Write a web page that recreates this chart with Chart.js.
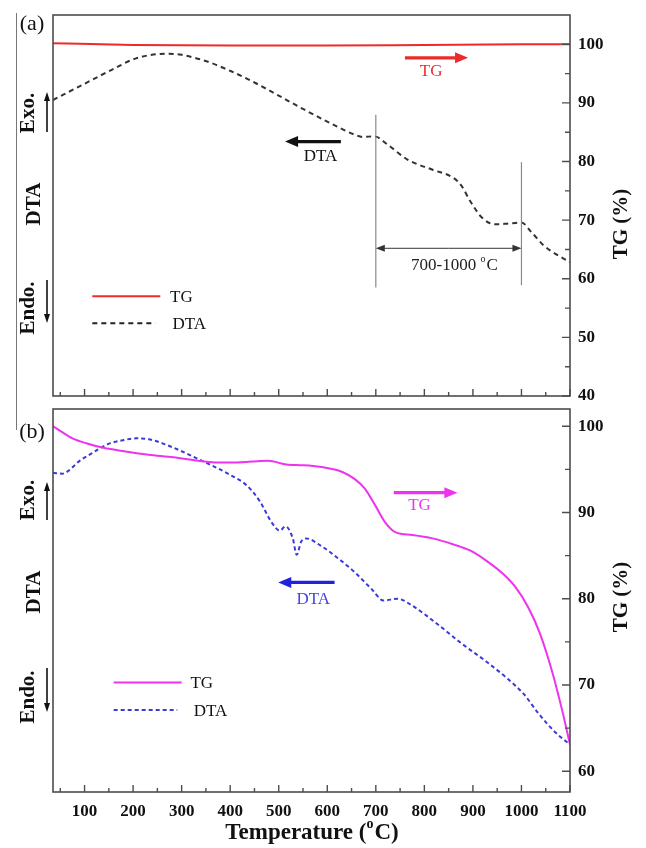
<!DOCTYPE html>
<html>
<head>
<meta charset="utf-8">
<script src="https://cdn.jsdelivr.net/npm/chart.js@4.4.1/dist/chart.umd.min.js"></script>
<style>
  html, body { margin: 0; padding: 0; background: #fff; }
  #wrap { position: relative; width: 646px; height: 848px; }
  .panel { position: absolute; left: 0; width: 646px; }
  #panelA { top: 0; height: 400px; }
  #panelB { top: 400px; height: 448px; }
  #edge { position: absolute; left: 16px; top: 13px; width: 1px; height: 417px; background: #777; }
</style>
</head>
<body>
<div id="wrap">
  <div class="panel" id="panelA"><canvas id="chartA"></canvas></div>
  <div class="panel" id="panelB"><canvas id="chartB"></canvas></div>
  <div id="edge"></div>
</div>
<script>
// tick labels
const tempTicks = [100, 200, 300, 400, 500, 600, 700, 800, 900, 1000, 1100];
const tgTicksA = [40, 50, 60, 70, 80, 90, 100];
const tgTicksB = [60, 70, 80, 90, 100];

// (a) TG + DTA
const tempA_TG = [35, 200, 400, 600, 800, 1000, 1100];
const tgA = [100.2, 99.9, 99.8, 99.8, 99.9, 100, 100];
const tempA_DTA = [35, 96, 155, 206, 270, 300, 351, 402, 452, 503, 554, 605, 656, 673, 697, 724, 766, 817, 860, 877, 894, 919, 945, 970, 1000, 1021, 1047, 1100];
const dtaA = [90.5, 93.1, 95.6, 97.6, 98.4, 98.2, 97.1, 95.4, 93.4, 91.1, 88.8, 86.6, 84.6, 84.2, 84.3, 82.9, 80.3, 78.6, 77.2, 75.8, 73.3, 70.4, 69.3, 69.4, 69.6, 67.9, 65.6, 62.8];

// (b) TG + DTA
const tempB_TG = [35, 49, 75, 105, 139, 181, 232, 283, 334, 368, 402, 444, 478, 491, 512, 537, 571, 605, 631, 656, 677, 699, 720, 741, 775, 817, 860, 894, 928, 962, 987, 1013, 1038, 1064, 1085, 1100];
const tgB = [100, 99.5, 98.6, 98.0, 97.5, 97.1, 96.7, 96.4, 96.0, 95.8, 95.8, 95.9, 96.0, 95.9, 95.6, 95.5, 95.4, 95.1, 94.7, 93.9, 92.8, 90.8, 88.8, 87.7, 87.4, 87.0, 86.3, 85.6, 84.4, 82.9, 81.4, 79.1, 76.0, 71.4, 66.8, 63.1];
const tempB_DTA = [35, 54, 66, 88, 113, 147, 181, 206, 232, 266, 300, 334, 368, 402, 435, 461, 486, 502, 514, 529, 537, 546, 556, 588, 622, 656, 690, 716, 745, 775, 826, 877, 928, 970, 1004, 1038, 1072, 1100];
const dtaB = [94.6, 94.5, 94.8, 95.9, 96.8, 97.9, 98.4, 98.6, 98.5, 97.9, 97.1, 96.2, 95.3, 94.3, 93.1, 91.3, 88.8, 87.9, 88.4, 87.0, 85.1, 86.6, 87.0, 86.1, 84.7, 83.1, 81.2, 79.8, 80.0, 79.2, 77.1, 74.8, 72.7, 70.8, 69.0, 66.5, 64.4, 63.1];

const SERIF = "'Liberation Serif', 'DejaVu Serif', serif";
const red = '#ee2b2b';
const magenta = '#ee33ee';
const blue = '#3a3ad8';

const pts = (xs, ys) => xs.map((t, i) => ({ x: t, y: ys[i] }));

function drawArrow(ctx, x1, y1, x2, y2, color, lw, hl, hw) {
    const ang = Math.atan2(y2 - y1, x2 - x1);
    const c = Math.cos(ang), s = Math.sin(ang);
    ctx.save();
    ctx.strokeStyle = color;
    ctx.fillStyle = color;
    ctx.lineWidth = lw;
    ctx.setLineDash([]);
    ctx.beginPath();
    ctx.moveTo(x1, y1);
    ctx.lineTo(x2 - c * hl * 0.8, y2 - s * hl * 0.8);
    ctx.stroke();
    ctx.beginPath();
    ctx.moveTo(x2, y2);
    ctx.lineTo(x2 - c * hl - s * hw, y2 - s * hl + c * hw);
    ctx.lineTo(x2 - c * hl + s * hw, y2 - s * hl - c * hw);
    ctx.closePath();
    ctx.fill();
    ctx.restore();
}

// text with a small raised "o" in it, centred on x
function supText(ctx, x, y, before, sup, after, size, weight, color) {
    ctx.save();
    ctx.fillStyle = color;
    ctx.textBaseline = 'middle';
    ctx.textAlign = 'left';
    const big = weight + ' ' + size + 'px ' + SERIF;
    const small = weight + ' ' + Math.round(size * 0.6) + 'px ' + SERIF;
    ctx.font = big;
    const w1 = ctx.measureText(before).width, w3 = ctx.measureText(after).width;
    ctx.font = small;
    const w2 = ctx.measureText(sup).width + 1;
    let cx = x - (w1 + w2 + w3) / 2;
    ctx.font = big;
    ctx.fillText(before, cx, y);
    ctx.font = small;
    ctx.fillText(sup, cx + w1, y - size * 0.38);
    ctx.font = big;
    ctx.fillText(after, cx + w1 + w2, y);
    ctx.restore();
}

function rotText(ctx, x, y, text, font, color) {
    ctx.save();
    ctx.translate(x, y);
    ctx.rotate(-Math.PI / 2);
    ctx.font = font;
    ctx.fillStyle = color;
    ctx.textAlign = 'center';
    ctx.textBaseline = 'middle';
    ctx.fillText(text, 0, 0);
    ctx.restore();
}

const panelDecor = {
    id: 'panelDecor',
    afterDraw(chart, args, o) {
        const { ctx, chartArea: a } = chart;
        const xs = chart.scales.x, ys = chart.scales.y;
        const px = t => xs.getPixelForValue(t);
        const py = v => ys.getPixelForValue(v);
        ctx.save();

        // frame and inward ticks
        ctx.strokeStyle = '#4d4d4d';
        ctx.lineWidth = 1.6;
        ctx.strokeRect(a.left, a.top, a.width, a.height);
        ctx.lineWidth = 1.4;
        ctx.beginPath();
        tempTicks.forEach(t => {
            ctx.moveTo(px(t), a.bottom); ctx.lineTo(px(t), a.bottom - 7);
            ctx.moveTo(px(t - 50), a.bottom); ctx.lineTo(px(t - 50), a.bottom - 4);
        });
        o.yTicks.forEach(v => {
            ctx.moveTo(a.right, py(v)); ctx.lineTo(a.right - 8, py(v));
            if (v + 5 < ys.max) {
                ctx.moveTo(a.right, py(v + 5)); ctx.lineTo(a.right - 5, py(v + 5));
            }
        });
        ctx.stroke();

        // range markers
        ctx.strokeStyle = '#8a8a8a';
        ctx.lineWidth = 1.2;
        (o.vlines || []).forEach(l => {
            ctx.beginPath();
            ctx.moveTo(px(l.t), py(l.v1));
            ctx.lineTo(px(l.t), py(l.v2));
            ctx.stroke();
        });
        (o.spans || []).forEach(s => {
            const mid = (px(s.t1) + px(s.t2)) / 2;
            drawArrow(ctx, mid, py(s.v), px(s.t1), py(s.v), '#333', 1, 9, 3.5);
            drawArrow(ctx, mid, py(s.v), px(s.t2), py(s.v), '#333', 1, 9, 3.5);
        });

        // direction arrows
        (o.arrows || []).forEach(r => {
            drawArrow(ctx, px(r.t1), py(r.v), px(r.t2), py(r.v), r.color, 3.2, 13, 5.5);
        });

        // notes
        (o.notes || []).forEach(n => {
            if (n.sup) {
                supText(ctx, px(n.t), py(n.v), n.text, n.sup, n.after, 17, 'normal', n.color);
            } else {
                ctx.font = '17px ' + SERIF;
                ctx.fillStyle = n.color;
                ctx.textAlign = 'center';
                ctx.textBaseline = 'middle';
                ctx.fillText(n.text, px(n.t), py(n.v));
            }
        });

        // legend
        (o.keys || []).forEach(k => {
            ctx.save();
            ctx.strokeStyle = k.color;
            ctx.lineWidth = 2;
            ctx.setLineDash(k.dash || []);
            ctx.beginPath();
            ctx.moveTo(px(k.t1), py(k.v));
            ctx.lineTo(px(k.t2), py(k.v));
            ctx.stroke();
            ctx.restore();
            ctx.font = '17px ' + SERIF;
            ctx.fillStyle = '#111';
            ctx.textAlign = 'left';
            ctx.textBaseline = 'middle';
            ctx.fillText(k.label, px(k.labelT), py(k.v) + 1);
        });

        // panel tag and left side labels
        ctx.font = '22px ' + SERIF;
        ctx.fillStyle = '#111';
        ctx.textAlign = 'center';
        ctx.textBaseline = 'middle';
        ctx.fillText(o.tag.text, o.tag.x, o.tag.y);
        o.side.forEach(s => rotText(ctx, s.x, s.y, s.text, 'bold 21px ' + SERIF, '#111'));
        o.sideArrows.forEach(s => drawArrow(ctx, s.x, s.y1, s.x, s.y2, '#111', 1.6, 9, 3));

        // right axis title
        rotText(ctx, 622, o.titleY, 'TG (%)', 'bold 21px ' + SERIF, '#111');

        if (o.xTitle) {
            supText(ctx, o.xTitle.x, o.xTitle.y, 'Temperature (', 'o', 'C)', 23, 'bold', '#111');
        }
        ctx.restore();
    }
};

// keep the plot box where the layout padding puts it
function noPad(axis) {
    axis.paddingTop = 0;
    axis.paddingBottom = 0;
    axis.paddingLeft = 0;
    axis.paddingRight = 0;
}

function rightAxis(min, max, ticks) {
    return {
        type: 'linear',
        position: 'right',
        min: min,
        max: max,
        grid: { display: false, drawTicks: false },
        border: { display: false },
        afterBuildTicks: axis => { axis.ticks = ticks.map(v => ({ value: v })); },
        afterFit: axis => { axis.width = 76; noPad(axis); },
        ticks: {
            padding: 8,
            color: '#111',
            callback: v => String(v),
            font: { family: SERIF, size: 17, weight: 'bold' }
        }
    };
}

function lineSet(data, color, dash) {
    return {
        data: data,
        borderColor: color,
        borderWidth: 2,
        borderDash: dash,
        pointRadius: 0,
        fill: false,
        cubicInterpolationMode: 'monotone'
    };
}

const chartA = new Chart(document.getElementById('chartA'), {
    type: 'line',
    data: {
        datasets: [
            lineSet(pts(tempA_TG, tgA), red, []),
            lineSet(pts(tempA_DTA, dtaA), '#333', [5, 4])
        ]
    },
    options: {
        responsive: true,
        maintainAspectRatio: false,
        animation: false,
        layout: { padding: { left: 53, top: 15, right: 0, bottom: 4 } },
        scales: {
            x: { type: 'linear', min: 35, max: 1100, display: false },
            y: rightAxis(40, 105, tgTicksA)
        },
        plugins: {
            legend: { display: false },
            tooltip: { enabled: false },
            panelDecor: {
                yTicks: tgTicksA,
                tag: { text: '(a)', x: 32, y: 24 },
                side: [
                    { text: 'Exo.', x: 29, y: 113 },
                    { text: 'DTA', x: 35, y: 204 },
                    { text: 'Endo.', x: 29, y: 308 }
                ],
                sideArrows: [{ x: 47, y1: 132, y2: 92 }, { x: 47, y1: 280, y2: 323 }],
                titleY: 224,
                vlines: [{ t: 700, v1: 88.0, v2: 58.5 }, { t: 1000, v1: 79.9, v2: 58.9 }],
                spans: [{ t1: 700, t2: 1000, v: 65.2 }],
                arrows: [
                    { t1: 760, t2: 890, v: 97.7, color: red },
                    { t1: 628, t2: 513, v: 83.4, color: '#111' }
                ],
                notes: [
                    { t: 814, v: 95.4, text: 'TG', color: red },
                    { t: 586, v: 80.8, text: 'DTA', color: '#111' },
                    { t: 862, v: 62.2, text: '700-1000 ', sup: 'o', after: 'C', color: '#222' }
                ],
                keys: [
                    { t1: 116, t2: 256, v: 57.0, color: red, label: 'TG', labelT: 276 },
                    { t1: 116, t2: 246, v: 52.4, color: '#222', dash: [5, 4], label: 'DTA', labelT: 281 }
                ]
            }
        }
    },
    plugins: [panelDecor]
});

const chartB = new Chart(document.getElementById('chartB'), {
    type: 'line',
    data: {
        datasets: [
            lineSet(pts(tempB_TG, tgB), magenta, []),
            lineSet(pts(tempB_DTA, dtaB), blue, [4, 3])
        ]
    },
    options: {
        responsive: true,
        maintainAspectRatio: false,
        animation: false,
        layout: { padding: { left: 53, top: 9, right: 0, bottom: 0 } },
        scales: {
            x: {
                type: 'linear',
                min: 35,
                max: 1100,
                grid: { display: false, drawTicks: false },
                border: { display: false },
                afterBuildTicks: axis => { axis.ticks = tempTicks.map(v => ({ value: v })); },
                afterFit: axis => { axis.height = 56; noPad(axis); },
                ticks: {
                    padding: 9,
                    color: '#111',
                    maxRotation: 0,
                    callback: v => String(v),
                    font: { family: SERIF, size: 17, weight: 'bold' }
                }
            },
            y: rightAxis(57.6, 102, tgTicksB)
        },
        plugins: {
            legend: { display: false },
            tooltip: { enabled: false },
            panelDecor: {
                yTicks: tgTicksB,
                tag: { text: '(b)', x: 32, y: 32 },
                side: [
                    { text: 'Exo.', x: 29, y: 100 },
                    { text: 'DTA', x: 35, y: 192 },
                    { text: 'Endo.', x: 29, y: 297 }
                ],
                sideArrows: [{ x: 47, y1: 120, y2: 82 }, { x: 47, y1: 268, y2: 312 }],
                titleY: 197,
                arrows: [
                    { t1: 737, t2: 868, v: 92.3, color: magenta },
                    { t1: 615, t2: 499, v: 81.9, color: '#2222dd' }
                ],
                notes: [
                    { t: 790, v: 90.8, text: 'TG', color: magenta },
                    { t: 571, v: 79.9, text: 'DTA', color: '#4444e0' }
                ],
                keys: [
                    { t1: 160, t2: 300, v: 70.3, color: magenta, label: 'TG', labelT: 318 },
                    { t1: 160, t2: 291, v: 67.1, color: blue, dash: [4, 3], label: 'DTA', labelT: 325 }
                ],
                xTitle: { x: 312, y: 433 }
            }
        }
    },
    plugins: [panelDecor]
});
</script>
</body>
</html>
